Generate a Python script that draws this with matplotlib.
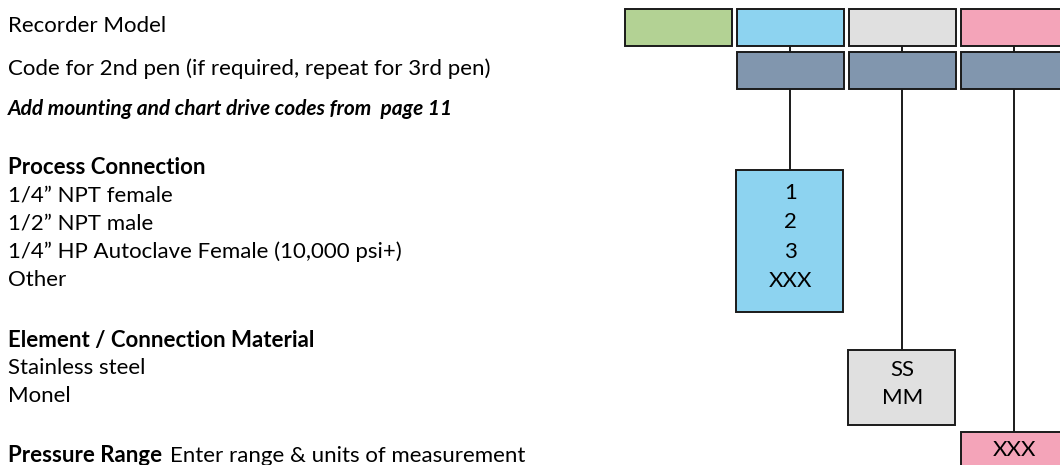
import matplotlib.pyplot as plt
from matplotlib.patches import Rectangle

plt.rcParams['font.family'] = ['Lato', 'DejaVu Sans']

# left hand descriptions
header_lines = ["Recorder Model", "Code for 2nd pen (if required, repeat for 3rd pen)"]
note_line = "Add mounting and chart drive codes from  page 11"
process_title = "Process Connection"
process_items = ["1/4\u201d NPT female", "1/2\u201d NPT male",
                 "1/4\u201d HP Autoclave Female (10,000 psi+)", "Other"]
material_title = "Element / Connection Material"
material_items = ["Stainless steel", "Monel"]
range_title = "Pressure Range"
range_note = "Enter range & units of measurement"

# code boxes
top_colors = ["#b3d294", "#8dd3f0", "#e0e0e0", "#f4a4b9"]
pen_color = "#8196ae"
process_codes = ["1", "2", "3", "XXX"]
material_codes = ["SS", "MM"]
range_codes = ["XXX"]

EDGE = "#1a1a1a"
FS = 16


def box(ax, x, y, w, h, fc):
    ax.add_patch(Rectangle((x, y), w, h, facecolor=fc, edgecolor=EDGE, lw=1.4, zorder=2))


def main():
    fig = plt.figure(figsize=(10.6, 4.65), dpi=100)
    ax = fig.add_axes([0, 0, 1, 1])
    ax.set_xlim(0, 1060)
    ax.set_ylim(465, 0)
    ax.axis('off')

    # left text
    ax.text(8, 26, header_lines[0], fontsize=FS, va='center')
    ax.text(8, 69, header_lines[1], fontsize=FS, va='center')
    ax.text(8, 109, note_line, fontsize=15, va='center', weight='bold', style='italic')

    ax.text(8, 167, process_title, fontsize=FS, va='center', weight='bold')
    for i, s in enumerate(process_items):
        ax.text(8, 195 + 28.4 * i, s, fontsize=FS, va='center')

    ax.text(8, 340, material_title, fontsize=FS, va='center', weight='bold')
    for i, s in enumerate(material_items):
        ax.text(8, 368 + 28.4 * i, s, fontsize=FS, va='center')

    t = ax.text(8, 455, range_title, fontsize=FS, va='center', weight='bold')
    ax.annotate(range_note, xy=(1, 0), xycoords=t, xytext=(6, 0),
                textcoords='offset points', fontsize=FS, va='bottom')

    # top row of boxes and pen boxes
    x0, w, step = 625, 106.5, 112
    for i, c in enumerate(top_colors):
        x = x0 + step * i
        box(ax, x, 9, w, 37.5, c)
        if i > 0:
            cx = x + w / 2
            box(ax, x, 52, w, 37.5, pen_color)
            ax.plot([cx, cx], [46.5, 52], color=EDGE, lw=1.4, zorder=1)

    cols = [x0 + step * i + w / 2 for i in range(1, 4)]

    # process connection box
    ax.plot([cols[0]] * 2, [89.5, 170], color=EDGE, lw=1.4, zorder=1)
    box(ax, cols[0] - w / 2 - 1, 170, w, 142, top_colors[1])
    for i, s in enumerate(process_codes):
        ax.text(cols[0], 193 + 29.3 * i, s, fontsize=FS, ha='center', va='center', zorder=3)

    # material box
    ax.plot([cols[1]] * 2, [89.5, 350], color=EDGE, lw=1.4, zorder=1)
    box(ax, cols[1] - w / 2 - 1, 350, w, 75, top_colors[2])
    for i, s in enumerate(material_codes):
        ax.text(cols[1], 370 + 28 * i, s, fontsize=FS, ha='center', va='center', zorder=3)

    # range box
    ax.plot([cols[2]] * 2, [89.5, 432], color=EDGE, lw=1.4, zorder=1)
    box(ax, cols[2] - w / 2, 432, w, 60, top_colors[3])
    for s in range_codes:
        ax.text(cols[2], 450, s, fontsize=FS, ha='center', va='center', zorder=3)

    fig.savefig("out.png", dpi=100)


if __name__ == '__main__':
    main()
